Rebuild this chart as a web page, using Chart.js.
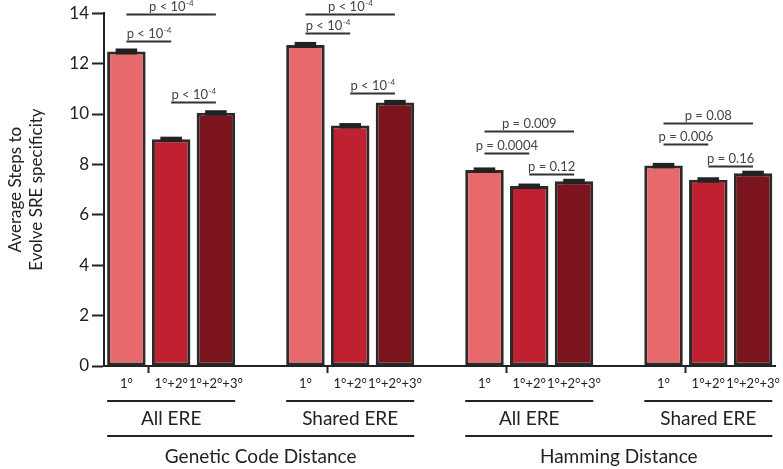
<!DOCTYPE html>
<html>
<head>
<meta charset="utf-8">
<script src="https://cdn.jsdelivr.net/npm/chart.js@4"></script>
<style>
  html, body { margin: 0; padding: 0; background: #fff; }
  canvas { display: block; }
</style>
</head>
<body>
<canvas id="chart" width="783" height="469"></canvas>
<script>
// tiers of the reconstruction (x tick labels)
var tiers = ['1°', '1°+2°', '1°+2°+3°'];

// average steps, one array per group
var allEreGenetic = [12.48, 9.0, 10.05];
var sharedEreGenetic = [12.74, 9.54, 10.46];
var allEreHamming = [7.78, 7.14, 7.33];
var sharedEreHamming = [7.96, 7.39, 7.65];

// error (sem) for each bar, same order
var errAllGenetic = [0.12, 0.1, 0.1];
var errSharedGenetic = [0.12, 0.1, 0.1];
var errAllHamming = [0.1, 0.1, 0.1];
var errSharedHamming = [0.1, 0.1, 0.1];

var subgroupNames = ['All ERE', 'Shared ERE', 'All ERE', 'Shared ERE'];
var distanceNames = ['Genetic Code Distance', 'Hamming Distance'];

// significance brackets: [from tier, to tier], height, text  (per group)
var bracketPairs = [[0, 2], [0, 1], [1, 2]];
var bracketHeights = [
  [13.96, 12.9, 10.49],
  [13.96, 13.2, 10.84],
  [9.31, 8.45, 7.6],
  [9.66, 8.8, 7.95]
];
var bracketTexts = [
  ['p < 10^-4', 'p < 10^-4', 'p < 10^-4'],
  ['p < 10^-4', 'p < 10^-4', 'p < 10^-4'],
  ['p = 0.009', 'p = 0.0004', 'p = 0.12'],
  ['p = 0.08', 'p = 0.006', 'p = 0.16']
];

var tierColors = ['#e8696b', '#bf2131', '#7b141c'];

var groups = [allEreGenetic, sharedEreGenetic, allEreHamming, sharedEreHamming];
var groupErrs = [errAllGenetic, errSharedGenetic, errAllHamming, errSharedHamming];

// build category axis with an empty slot between groups
var labels = [], values = [], errs = [], colors = [];
groups.forEach(function (g, gi) {
  if (gi > 0) { labels.push(''); values.push(null); errs.push(null); colors.push('transparent'); }
  g.forEach(function (v, ti) {
    labels.push(tiers[ti]);
    values.push(v);
    errs.push(groupErrs[gi][ti]);
    colors.push(tierColors[ti]);
  });
});
function barIndex(gi, ti) { return gi * 4 + ti; }

var FONT = 'Lato, "Open Sans", sans-serif';
var INK = '#222';

var annotations = {
  id: 'annotations',
  afterDraw: function (chart) {
    var ctx = chart.ctx;
    var meta = chart.getDatasetMeta(0);
    var y = chart.scales.y;
    var bottom = chart.chartArea.bottom;
    ctx.save();

    // error caps
    ctx.fillStyle = INK;
    meta.data.forEach(function (bar, i) {
      if (values[i] == null) return;
      var w = bar.width * 0.56;
      var top = y.getPixelForValue(values[i] + errs[i]);
      var bot = y.getPixelForValue(values[i] - errs[i]);
      ctx.fillRect(bar.x - w / 2, top, w, Math.max(bot - top, 5.5));
    });

    // significance brackets
    ctx.strokeStyle = '#333';
    ctx.lineWidth = 1.8;
    ctx.fillStyle = '#444';
    ctx.textBaseline = 'alphabetic';
    groups.forEach(function (g, gi) {
      bracketPairs.forEach(function (pair, k) {
        var x1 = meta.data[barIndex(gi, pair[0])].x;
        var x2 = meta.data[barIndex(gi, pair[1])].x;
        var py = Math.round(y.getPixelForValue(bracketHeights[gi][k])) + 0.5;
        ctx.beginPath();
        ctx.moveTo(x1, py);
        ctx.lineTo(x2, py);
        ctx.stroke();
        var txt = bracketTexts[gi][k];
        var parts = txt.split('^');
        ctx.font = '13px ' + FONT;
        var wBase = ctx.measureText(parts[0]).width;
        var wExp = 0;
        if (parts[1]) { ctx.font = '8px ' + FONT; wExp = ctx.measureText(parts[1]).width; }
        var sx = (x1 + x2) / 2 - (wBase + wExp) / 2;
        ctx.textAlign = 'left';
        ctx.font = '13px ' + FONT;
        ctx.fillText(parts[0], sx, py - 4);
        if (parts[1]) {
          ctx.font = '8px ' + FONT;
          ctx.fillText(parts[1], sx + wBase + 0.5, py - 9);
        }
      });
    });

    // group labels below the axis
    ctx.strokeStyle = INK;
    ctx.lineWidth = 2;
    ctx.fillStyle = INK;
    ctx.textAlign = 'center';
    ctx.textBaseline = 'middle';
    ctx.font = '19px ' + FONT;
    function edges(gi) {
      var a = meta.data[barIndex(gi, 0)], b = meta.data[barIndex(gi, 2)];
      return [a.x - a.width / 2, b.x + b.width / 2];
    }
    subgroupNames.forEach(function (name, gi) {
      var e = edges(gi);
      ctx.beginPath();
      ctx.moveTo(e[0], bottom + 35);
      ctx.lineTo(e[1], bottom + 35);
      ctx.stroke();
      ctx.fillText(name, (e[0] + e[1]) / 2, bottom + 53);
    });
    distanceNames.forEach(function (name, di) {
      var l = edges(di * 2)[0], r = edges(di * 2 + 1)[1];
      ctx.beginPath();
      ctx.moveTo(l, bottom + 70);
      ctx.lineTo(r, bottom + 70);
      ctx.stroke();
      ctx.fillText(name, (l + r) / 2, bottom + 91);
    });
    ctx.restore();
  }
};

new Chart(document.getElementById('chart'), {
  type: 'bar',
  data: {
    labels: labels,
    datasets: [{
      data: values,
      backgroundColor: colors,
      borderColor: '#2a2a2a',
      borderWidth: 3,
      borderSkipped: false,
      barPercentage: 0.86,
      categoryPercentage: 1
    }]
  },
  options: {
    responsive: false,
    animation: false,
    devicePixelRatio: 1,
    layout: { padding: { top: 11, right: 0, left: 0, bottom: 0 } },
    plugins: { legend: { display: false }, tooltip: { enabled: false } },
    scales: {
      x: {
        grid: {
          drawOnChartArea: false,
          tickLength: 7,
          tickWidth: 2,
          tickColor: function (c) { return c.index % 4 === 1 ? INK : 'transparent'; }
        },
        border: { color: INK, width: 2 },
        ticks: {
          font: { family: FONT, size: 13 },
          color: INK,
          padding: 3,
          maxRotation: 0,
          autoSkip: false
        },
        afterFit: function (s) { s.height = 103; }
      },
      y: {
        min: 0,
        max: 14,
        ticks: { stepSize: 2, font: { family: FONT, size: 17 }, color: INK, padding: 3 },
        grid: { drawOnChartArea: false, tickLength: 12, tickWidth: 2, tickColor: INK },
        border: { color: INK, width: 2 },
        title: {
          display: true,
          text: ['Average Steps to', 'Evolve SRE specificity'],
          font: { family: FONT, size: 17, lineHeight: 1.25 },
          color: INK,
          padding: { top: 5, bottom: 0 }
        },
        afterFit: function (s) { s.width = 104; }
      }
    }
  },
  plugins: [annotations]
});
</script>
</body>
</html>
